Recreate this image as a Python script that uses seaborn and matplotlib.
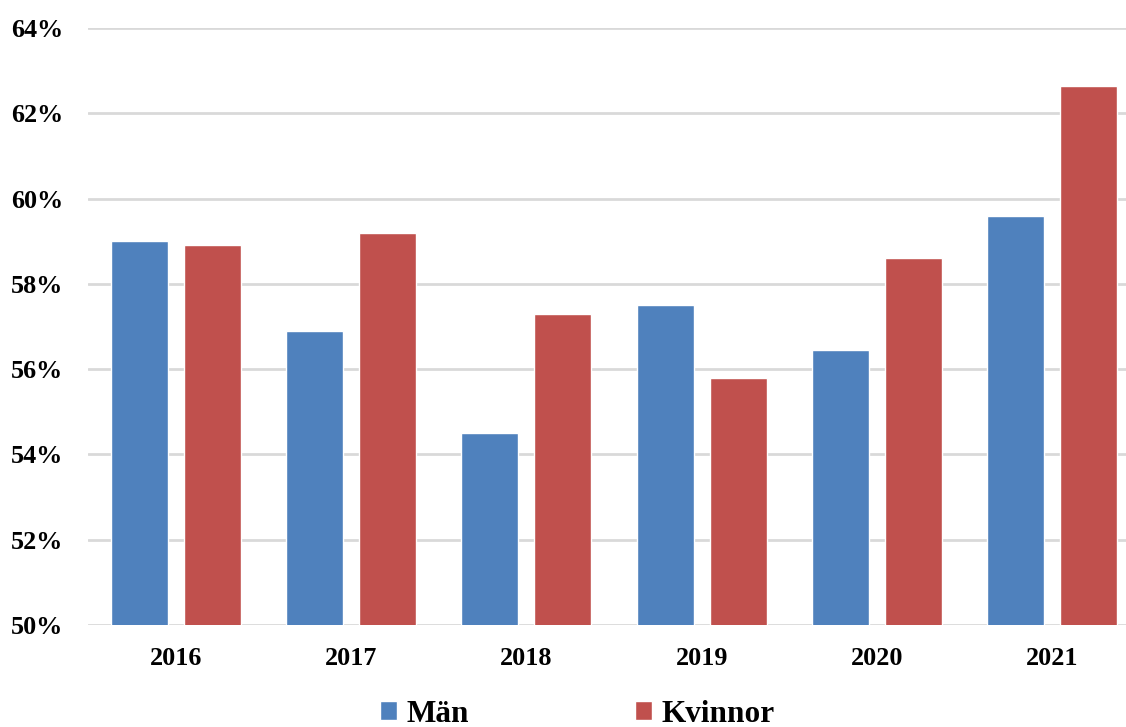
import pandas as pd
import matplotlib.pyplot as plt
import seaborn as sns

# data (percent)
years = ["2016", "2017", "2018", "2019", "2020", "2021"]
man = [59.0, 56.9, 54.5, 57.5, 56.45, 59.6]
kvinnor = [58.9, 59.2, 57.3, 55.8, 58.6, 62.65]
series_names = ["Män", "Kvinnor"]
y_ticks = [50, 52, 54, 56, 58, 60, 62, 64]

df = pd.DataFrame({
    "year": years * 2,
    "value": man + kvinnor,
    "series": [series_names[0]] * len(years) + [series_names[1]] * len(years),
})

sns.set_theme(style="white")
plt.rcParams["font.family"] = ["Liberation Serif", "DejaVu Serif"]
plt.rcParams["font.weight"] = "bold"
plt.rcParams["text.color"] = "black"
plt.rcParams["xtick.color"] = "black"
plt.rcParams["ytick.color"] = "black"

fig = plt.figure(figsize=(11.26, 7.27), dpi=100)
ax = fig.add_axes([88 / 1126, 102 / 727, 1 - 88 / 1126, (625 - 28) / 727])

sns.barplot(data=df, x="year", y="value", hue="series",
            palette=["#4F81BD", "#C0504D"], width=0.832, gap=0.22,
            saturation=1, ax=ax, zorder=3)

ax.set_ylim(50, 64)
ax.set_xlim(-0.5, 5.42)
ax.set_yticks(y_ticks)
ax.set_yticklabels([f"{t}%" for t in y_ticks])
ax.yaxis.grid(True, color="#d9d9d9", linewidth=2, zorder=0)
ax.set_axisbelow(True)
for s in ax.spines.values():
    s.set_visible(False)
ax.tick_params(axis="y", labelsize=18.8, pad=18, length=0, labelcolor="black")
ax.tick_params(axis="x", labelsize=18.8, pad=16, length=0, labelcolor="black")
for lab in ax.get_xticklabels() + ax.get_yticklabels():
    lab.set_fontweight("bold")
ax.set_xlabel("")
ax.set_ylabel("")

handles, labels = ax.get_legend_handles_labels()
ax.get_legend().remove()
fig.legend(handles, labels, loc="center", bbox_to_anchor=(577 / 1126, 13 / 727),
           ncol=2, frameon=False, prop={"size": 22.5, "weight": "bold"},
           labelcolor="black",
           handlelength=0.55, handleheight=0.55, handletextpad=0.3,
           columnspacing=5.3, borderpad=0)

fig.savefig("out.png", dpi=100)
